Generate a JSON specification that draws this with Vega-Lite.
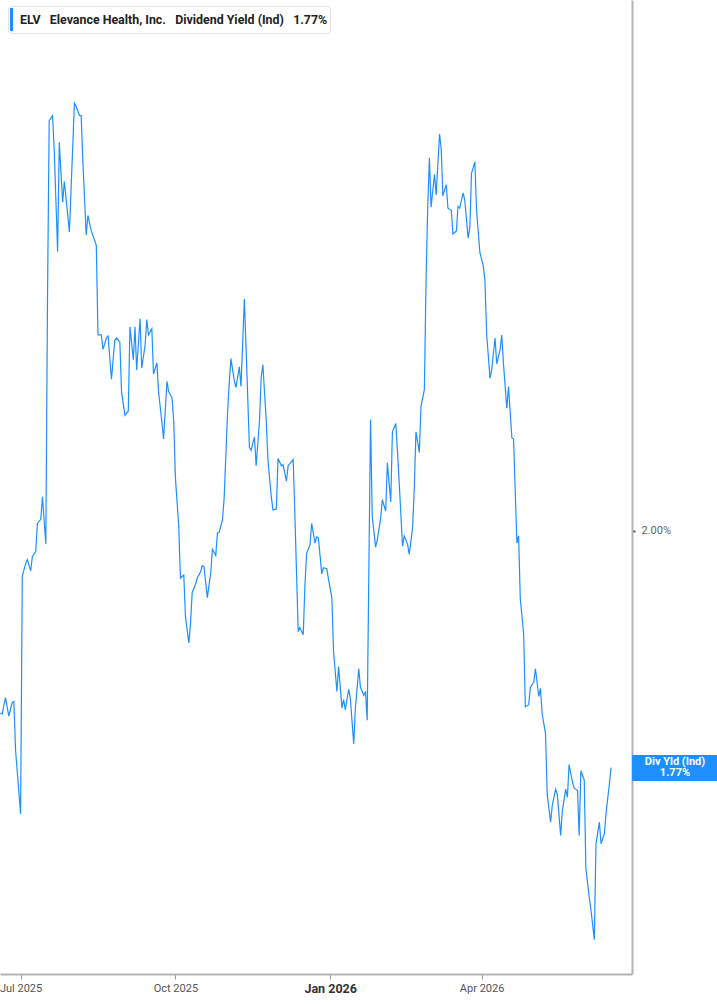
{
  "$schema": "https://vega.github.io/schema/vega-lite/v6.json",
  "width": 632,
  "height": 974,
  "autosize": {"type": "none"},
  "padding": {"left": 0, "top": 0, "right": 85, "bottom": 31},
  "background": "white",
  "config": {"view": {"stroke": null}, "font": "Roboto"},
  "data": {"values": [
    {"date":"2025-06-19","yield":1.823},{"date":"2025-06-20","yield":1.822},{"date":"2025-06-22","yield":1.838},{"date":"2025-06-24","yield":1.820},{"date":"2025-06-26","yield":1.833},{"date":"2025-06-27","yield":1.834},{"date":"2025-06-28","yield":1.787},
    {"date":"2025-07-01","yield":1.725},{"date":"2025-07-02","yield":1.956},{"date":"2025-07-04","yield":1.968},{"date":"2025-07-05","yield":1.972},{"date":"2025-07-07","yield":1.961},{"date":"2025-07-08","yield":1.975},{"date":"2025-07-10","yield":1.980},{"date":"2025-07-11","yield":2.007},{"date":"2025-07-13","yield":2.011},{"date":"2025-07-14","yield":2.033},{"date":"2025-07-16","yield":1.987},{"date":"2025-07-17","yield":2.226},{"date":"2025-07-18","yield":2.398},{"date":"2025-07-20","yield":2.403},{"date":"2025-07-21","yield":2.369},{"date":"2025-07-23","yield":2.271},{"date":"2025-07-24","yield":2.377},{"date":"2025-07-26","yield":2.319},{"date":"2025-07-27","yield":2.339},{"date":"2025-07-28","yield":2.323},{"date":"2025-07-30","yield":2.290},
    {"date":"2025-08-02","yield":2.415},{"date":"2025-08-03","yield":2.412},{"date":"2025-08-05","yield":2.403},{"date":"2025-08-06","yield":2.403},{"date":"2025-08-07","yield":2.359},{"date":"2025-08-09","yield":2.287},{"date":"2025-08-10","yield":2.306},{"date":"2025-08-12","yield":2.291},{"date":"2025-08-14","yield":2.282},{"date":"2025-08-15","yield":2.277},{"date":"2025-08-16","yield":2.190},{"date":"2025-08-18","yield":2.190},{"date":"2025-08-19","yield":2.176},{"date":"2025-08-21","yield":2.187},{"date":"2025-08-22","yield":2.189},{"date":"2025-08-24","yield":2.147},{"date":"2025-08-25","yield":2.166},{"date":"2025-08-26","yield":2.185},{"date":"2025-08-27","yield":2.187},{"date":"2025-08-29","yield":2.183},{"date":"2025-08-30","yield":2.135},
    {"date":"2025-09-01","yield":2.112},{"date":"2025-09-03","yield":2.116},{"date":"2025-09-04","yield":2.198},{"date":"2025-09-06","yield":2.166},{"date":"2025-09-07","yield":2.198},{"date":"2025-09-08","yield":2.156},{"date":"2025-09-10","yield":2.206},{"date":"2025-09-11","yield":2.158},{"date":"2025-09-13","yield":2.180},{"date":"2025-09-14","yield":2.205},{"date":"2025-09-15","yield":2.190},{"date":"2025-09-17","yield":2.196},{"date":"2025-09-18","yield":2.152},{"date":"2025-09-20","yield":2.163},{"date":"2025-09-21","yield":2.135},{"date":"2025-09-23","yield":2.105},{"date":"2025-09-24","yield":2.089},{"date":"2025-09-26","yield":2.145},{"date":"2025-09-27","yield":2.135},{"date":"2025-09-29","yield":2.129},{"date":"2025-09-30","yield":2.107},
    {"date":"2025-10-01","yield":2.052},{"date":"2025-10-03","yield":2.004},{"date":"2025-10-04","yield":1.954},{"date":"2025-10-06","yield":1.957},{"date":"2025-10-07","yield":1.916},{"date":"2025-10-09","yield":1.891},{"date":"2025-10-10","yield":1.910},{"date":"2025-10-11","yield":1.940},{"date":"2025-10-13","yield":1.948},{"date":"2025-10-14","yield":1.954},{"date":"2025-10-16","yield":1.960},{"date":"2025-10-17","yield":1.966},{"date":"2025-10-18","yield":1.965},{"date":"2025-10-20","yield":1.935},{"date":"2025-10-22","yield":1.959},{"date":"2025-10-23","yield":1.982},{"date":"2025-10-25","yield":1.976},{"date":"2025-10-26","yield":1.998},{"date":"2025-10-27","yield":1.998},{"date":"2025-10-29","yield":2.011},{"date":"2025-10-30","yield":2.032},
    {"date":"2025-11-01","yield":2.114},{"date":"2025-11-02","yield":2.143},{"date":"2025-11-03","yield":2.167},{"date":"2025-11-05","yield":2.146},{"date":"2025-11-06","yield":2.139},{"date":"2025-11-08","yield":2.159},{"date":"2025-11-09","yield":2.140},{"date":"2025-11-11","yield":2.225},{"date":"2025-11-12","yield":2.178},{"date":"2025-11-14","yield":2.081},{"date":"2025-11-15","yield":2.078},{"date":"2025-11-17","yield":2.091},{"date":"2025-11-18","yield":2.063},{"date":"2025-11-20","yield":2.107},{"date":"2025-11-21","yield":2.149},{"date":"2025-11-22","yield":2.161},{"date":"2025-11-24","yield":2.107},{"date":"2025-11-25","yield":2.069},{"date":"2025-11-27","yield":2.033},{"date":"2025-11-28","yield":2.020},{"date":"2025-11-30","yield":2.021},
    {"date":"2025-12-01","yield":2.070},{"date":"2025-12-03","yield":2.063},{"date":"2025-12-04","yield":2.064},{"date":"2025-12-06","yield":2.048},{"date":"2025-12-07","yield":2.063},{"date":"2025-12-08","yield":2.065},{"date":"2025-12-10","yield":2.069},{"date":"2025-12-11","yield":2.017},{"date":"2025-12-13","yield":1.902},{"date":"2025-12-14","yield":1.906},{"date":"2025-12-16","yield":1.899},{"date":"2025-12-17","yield":1.947},{"date":"2025-12-18","yield":1.978},{"date":"2025-12-20","yield":1.986},{"date":"2025-12-21","yield":2.007},{"date":"2025-12-23","yield":1.988},{"date":"2025-12-24","yield":1.994},{"date":"2025-12-25","yield":1.993},{"date":"2025-12-27","yield":1.958},{"date":"2025-12-28","yield":1.964},{"date":"2025-12-30","yield":1.963},{"date":"2025-12-31","yield":1.953},
    {"date":"2026-01-02","yield":1.935},{"date":"2026-01-03","yield":1.883},{"date":"2026-01-05","yield":1.844},{"date":"2026-01-06","yield":1.868},{"date":"2026-01-08","yield":1.828},{"date":"2026-01-09","yield":1.836},{"date":"2026-01-10","yield":1.826},{"date":"2026-01-12","yield":1.846},{"date":"2026-01-13","yield":1.837},{"date":"2026-01-15","yield":1.793},{"date":"2026-01-16","yield":1.828},{"date":"2026-01-18","yield":1.866},{"date":"2026-01-19","yield":1.848},{"date":"2026-01-21","yield":1.840},{"date":"2026-01-22","yield":1.844},{"date":"2026-01-23","yield":1.816},{"date":"2026-01-25","yield":2.108},{"date":"2026-01-26","yield":2.014},{"date":"2026-01-28","yield":1.984},{"date":"2026-01-29","yield":1.991},{"date":"2026-01-31","yield":2.012},
    {"date":"2026-02-01","yield":2.030},{"date":"2026-02-03","yield":2.019},{"date":"2026-02-04","yield":2.066},{"date":"2026-02-06","yield":2.028},{"date":"2026-02-07","yield":2.096},{"date":"2026-02-09","yield":2.104},{"date":"2026-02-10","yield":2.077},{"date":"2026-02-11","yield":2.048},{"date":"2026-02-13","yield":1.985},{"date":"2026-02-14","yield":1.995},{"date":"2026-02-16","yield":1.987},{"date":"2026-02-17","yield":1.977},{"date":"2026-02-19","yield":2.003},{"date":"2026-02-20","yield":2.042},{"date":"2026-02-21","yield":2.096},{"date":"2026-02-23","yield":2.076},{"date":"2026-02-24","yield":2.121},{"date":"2026-02-26","yield":2.137},{"date":"2026-02-27","yield":2.244},{"date":"2026-02-28","yield":2.315},
    {"date":"2026-03-01","yield":2.362},{"date":"2026-03-02","yield":2.314},{"date":"2026-03-04","yield":2.346},{"date":"2026-03-05","yield":2.326},{"date":"2026-03-07","yield":2.385},{"date":"2026-03-08","yield":2.371},{"date":"2026-03-09","yield":2.325},{"date":"2026-03-11","yield":2.336},{"date":"2026-03-12","yield":2.313},{"date":"2026-03-14","yield":2.311},{"date":"2026-03-15","yield":2.288},{"date":"2026-03-17","yield":2.291},{"date":"2026-03-18","yield":2.315},{"date":"2026-03-19","yield":2.313},{"date":"2026-03-21","yield":2.328},{"date":"2026-03-22","yield":2.321},{"date":"2026-03-24","yield":2.284},{"date":"2026-03-25","yield":2.294},{"date":"2026-03-26","yield":2.347},{"date":"2026-03-28","yield":2.358},{"date":"2026-03-29","yield":2.311},{"date":"2026-03-31","yield":2.270},
    {"date":"2026-04-02","yield":2.257},{"date":"2026-04-03","yield":2.243},{"date":"2026-04-04","yield":2.191},{"date":"2026-04-06","yield":2.148},{"date":"2026-04-07","yield":2.156},{"date":"2026-04-09","yield":2.187},{"date":"2026-04-10","yield":2.162},{"date":"2026-04-12","yield":2.176},{"date":"2026-04-13","yield":2.190},{"date":"2026-04-14","yield":2.162},{"date":"2026-04-16","yield":2.119},{"date":"2026-04-17","yield":2.140},{"date":"2026-04-19","yield":2.090},{"date":"2026-04-20","yield":2.089},{"date":"2026-04-22","yield":1.988},{"date":"2026-04-23","yield":1.995},{"date":"2026-04-24","yield":1.934},{"date":"2026-04-26","yield":1.900},{"date":"2026-04-27","yield":1.829},{"date":"2026-04-29","yield":1.831},{"date":"2026-04-30","yield":1.848},
    {"date":"2026-05-02","yield":1.853},{"date":"2026-05-03","yield":1.866},{"date":"2026-05-05","yield":1.839},{"date":"2026-05-06","yield":1.847},{"date":"2026-05-07","yield":1.822},{"date":"2026-05-09","yield":1.803},{"date":"2026-05-10","yield":1.744},{"date":"2026-05-12","yield":1.717},{"date":"2026-05-13","yield":1.733},{"date":"2026-05-15","yield":1.749},{"date":"2026-05-16","yield":1.744},{"date":"2026-05-18","yield":1.704},{"date":"2026-05-19","yield":1.728},{"date":"2026-05-21","yield":1.749},{"date":"2026-05-22","yield":1.741},{"date":"2026-05-23","yield":1.773},{"date":"2026-05-25","yield":1.756},{"date":"2026-05-26","yield":1.750},{"date":"2026-05-28","yield":1.748},{"date":"2026-05-29","yield":1.704},{"date":"2026-05-30","yield":1.767},
    {"date":"2026-06-01","yield":1.758},{"date":"2026-06-02","yield":1.672},{"date":"2026-06-04","yield":1.644},{"date":"2026-06-05","yield":1.632},{"date":"2026-06-07","yield":1.603},{"date":"2026-06-08","yield":1.696},{"date":"2026-06-10","yield":1.717},{"date":"2026-06-11","yield":1.696},{"date":"2026-06-13","yield":1.706},{"date":"2026-06-14","yield":1.726},{"date":"2026-06-16","yield":1.755},{"date":"2026-06-17","yield":1.770}
  ]},
  "layer": [
    {
      "mark": {"type": "line", "color": "#1e8fff", "strokeWidth": 1.2},
      "encoding": {
        "x": {
          "field": "date", "type": "temporal",
          "scale": {"domain": [{"year":2025,"month":6,"date":18,"hours":18,"minutes":15},{"year":2026,"month":6,"date":29,"hours":9,"minutes":36}], "nice": false},
          "axis": {
            "title": null, "grid": false,
            "values": [{"year":2025,"month":7,"date":1},{"year":2025,"month":10,"date":1},{"year":2026,"month":1,"date":1},{"year":2026,"month":4,"date":1}],
            "format": "%b %Y",
            "domainColor": "#b4b4b4", "domainWidth": 2,
            "tickColor": "#999999", "tickSize": 5, "tickWidth": 1,
            "labelFont": "Roboto",
            "labelFontSize": {"expr": "month(datum.value)==0 ? 12.5 : 11"},
            "labelFontWeight": {"expr": "month(datum.value)==0 ? 'bold' : 'normal'"},
            "labelColor": {"expr": "month(datum.value)==0 ? '#333333' : '#555555'"},
            "labelPadding": 3, "labelFlush": false, "labelOverlap": false
          }
        },
        "y": {
          "field": "yield", "type": "quantitative",
          "scale": {"domain": [1.5696, 2.5152], "zero": false, "nice": false},
          "axis": {
            "orient": "right", "title": null, "grid": false,
            "values": [2.0],
            "labelExpr": "format(datum.value, '.2f') + '%'",
            "domainColor": "#b4b4b4", "domainWidth": 2,
            "tickColor": "#555555", "tickSize": 3, "tickWidth": 2,
            "labelFont": "Roboto", "labelFontSize": 11, "labelColor": "#666666", "labelPadding": 6
          }
        }
      }
    },
    {
      "data": {"values": [{}]},
      "mark": {"type": "rect"},
      "encoding": {
        "x": {"datum": {"year":2026,"month":6,"date":29,"hours":9,"minutes":36}, "type": "temporal"},
        "x2": {"datum": {"year":2026,"month":8,"date":20}},
        "y": {"datum": 1.7822, "type": "quantitative"},
        "y2": {"datum": 1.7570},
        "color": {
          "datum": "ELV\u00a0\u00a0 Elevance Health, Inc.\u00a0\u00a0 Dividend Yield (Ind)\u00a0\u00a0 1.77%\u00a0\u00a0",
          "type": "nominal",
          "scale": {"range": ["#1e8fff"]},
          "legend": {
            "orient": "none", "legendX": 8, "legendY": 6,
            "title": null, "padding": 2,
            "fillColor": "white", "strokeColor": "#e2e2e2", "cornerRadius": 4,
            "symbolType": "M-1,-1H-0.74V1H-1Z", "symbolSize": 529, "symbolStrokeWidth": 0,
            "labelFont": "Roboto", "labelFontSize": 12.4, "labelFontWeight": "bold", "labelColor": "#222222",
            "labelOffset": -13, "labelLimit": 600
          }
        }
      }
    },
    {
      "data": {"values": [{}]},
      "mark": {"type": "text", "color": "white", "font": "Roboto", "fontWeight": "bold", "fontSize": 11, "lineHeight": 11, "align": "center", "baseline": "middle"},
      "encoding": {
        "x": {"datum": {"year":2026,"month":7,"date":24,"hours":22,"minutes":48}, "type": "temporal"},
        "y": {"datum": 1.7750, "type": "quantitative"},
        "text": {"value": ["Div Yld (Ind)", "1.77%"]}
      }
    }
  ]
}
